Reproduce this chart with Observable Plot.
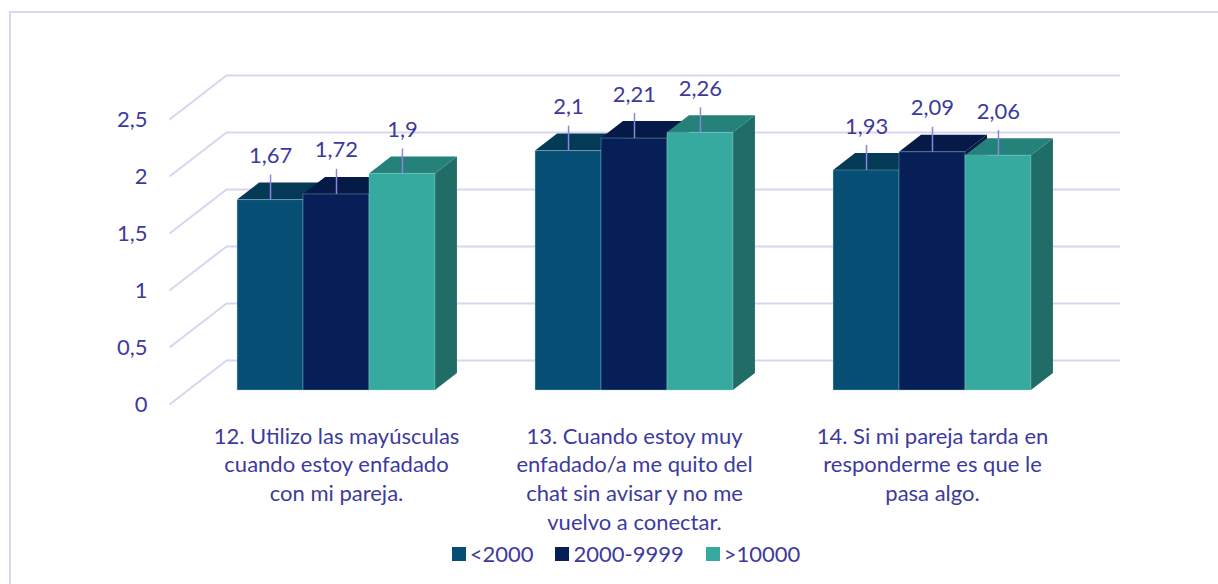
<!DOCTYPE html>
<html>
<head>
<meta charset="utf-8">
<script src="https://cdn.jsdelivr.net/npm/d3@7"></script>
<script src="https://cdn.jsdelivr.net/npm/@observablehq/plot@0.6"></script>
<style>
  html, body { margin: 0; padding: 0; background: #fff; }
  #wrap { position: relative; width: 1218px; height: 584px; overflow: hidden; background: #fff; }
  #frame { position: absolute; left: 9px; top: 11px; width: 1400px; height: 800px; border: 2px solid #d9d5f2; box-sizing: border-box; }
  #chart { position: absolute; left: 0; top: 0; }
  #legend { position: absolute; left: 0; top: 537px; width: 1218px; display: flex; justify-content: center; padding-left: 56px; box-sizing: border-box; }
  #legend, #legend * { font-family: Lato, sans-serif; font-size: 22px; color: #3d3a9e; }
  .lg-swatch { margin-right: 22px !important; }
  .lg-swatch > svg { margin-right: 4px !important; }
</style>
</head>
<body>
<div id="wrap">
  <div id="frame"></div>
  <div id="chart"></div>
  <div id="legend"></div>
</div>
<script>
// ---- data ----
const categories = [
  "12. Utilizo las mayúsculas\ncuando estoy enfadado\ncon mi pareja.",
  "13. Cuando estoy muy\nenfadado/a me quito del\nchat sin avisar y no me\nvuelvo a conectar.",
  "14. Si mi pareja tarda en\nresponderme es que le\npasa algo."
];
const series = ["<2000", "2000-9999", ">10000"];
const valuesLow  = [1.67, 2.1, 1.93];
const valuesMid  = [1.72, 2.21, 2.09];
const valuesHigh = [1.9, 2.26, 2.06];
const yTicks = [0, 0.5, 1, 1.5, 2, 2.5];

// ---- styles ----
const frontColors = ["#064e73", "#071f57", "#37aaa0"];
const topColors   = ["#053a57", "#061a47", "#25827b"];
const sideColors  = ["#043f5e", "#051848", "#1f6d66"];
const textColor = "#3d3a9e";
const gridColor = "#d9d5f0";
const leaderColor = "#8b85db";
const font = "Lato, sans-serif";

// ---- layout ----
const xRange = [187, 1081], yRange = [390, 105];
const ux = (xRange[1] - xRange[0]) / 3, uy = (yRange[0] - yRange[1]) / 2.5;
const barDX = 22 / ux, barDY = 17 / uy;           // bar depth
const back = {dx: 39, dy: -30}, front = {dx: -18, dy: 14}; // wall planes
const groupFrac = 0.664, barW = groupFrac / 3, pad = (1 - groupFrac) / 2;

const seriesValues = [valuesLow, valuesMid, valuesHigh];
const bars = [];
categories.forEach((c, ci) => series.forEach((s, si) => {
  const v = seriesValues[si][ci];
  const x1 = ci + pad + si * barW;
  bars.push({id: ci + "-" + si, ci, si, v, x1, x2: x1 + barW, label: String(v).replace(".", ",")});
}));

const sideMarks = [], topMarks = [], frontMarks = [];
series.forEach((s, si) => {
  const b = bars.filter(d => d.si === si);
  sideMarks.push(Plot.areaY(b.flatMap(d => [
    {id: d.id, x: d.x2, y1: 0, y2: d.v},
    {id: d.id, x: d.x2 + barDX, y1: barDY, y2: d.v + barDY}
  ]), {x: "x", y1: "y1", y2: "y2", z: "id", fill: sideColors[si]}));
  topMarks.push(Plot.areaX(b.flatMap(d => [
    {id: d.id, y: d.v, x1: d.x1, x2: d.x2},
    {id: d.id, y: d.v + barDY, x1: d.x1 + barDX, x2: d.x2 + barDX}
  ]), {y: "y", x1: "x1", x2: "x2", z: "id", fill: topColors[si]}));
  frontMarks.push(Plot.rect(b, {x1: "x1", x2: "x2", y1: 0, y2: "v", fill: frontColors[si],
    stroke: "#9fd3e0", strokeOpacity: 0.35, strokeWidth: 1}));
});

const chart = Plot.plot({
  width: 1218,
  height: 540,
  margin: 0,
  style: {background: "transparent", fontFamily: font, overflow: "visible"},
  x: {domain: [0, 3], range: xRange, axis: null},
  y: {domain: [0, 2.5], range: yRange, axis: null},
  marks: [
    // back wall gridlines
    Plot.ruleY(yTicks, {y: d => d, x1: 0, x2: 3, dx: back.dx, dy: back.dy, stroke: gridColor, strokeWidth: 2}),
    // side wall diagonals
    Plot.link(yTicks, {
      x1: 0, y1: d => d,
      x2: (back.dx - front.dx) / ux, y2: d => d + (front.dy - back.dy) / uy,
      dx: front.dx, dy: front.dy, stroke: gridColor, strokeWidth: 2
    }),
    // tick labels
    Plot.text(yTicks, {x: 0, y: d => d, text: d => String(d).replace(".", ","),
      textAnchor: "end", dx: front.dx - 22, dy: front.dy, fontSize: 22, fill: textColor}),
    ...sideMarks,
    ...topMarks,
    ...frontMarks,
    // leader lines
    Plot.ruleX(bars, {x: d => (d.x1 + d.x2) / 2, y1: "v", y2: d => d.v + 25 / uy, stroke: leaderColor, strokeWidth: 1.5}),
    // data labels
    Plot.text(bars, {x: d => (d.x1 + d.x2) / 2, y: "v", text: "label", dy: -44, fontSize: 22, fill: textColor}),
    // category labels
    Plot.text(categories, {x: (d, i) => i + 0.5, y: 0, text: d => d, lineAnchor: "top",
      dy: 33, lineHeight: 1.3, fontSize: 22, fill: textColor})
  ]
});
document.getElementById("chart").appendChild(chart);

const legend = Plot.legend({
  color: {type: "ordinal", domain: series, range: frontColors},
  swatchSize: 14,
  className: "lg",
  style: {fontFamily: font, fontSize: "22px", color: textColor}
});
document.getElementById("legend").appendChild(legend);
</script>
</body>
</html>
